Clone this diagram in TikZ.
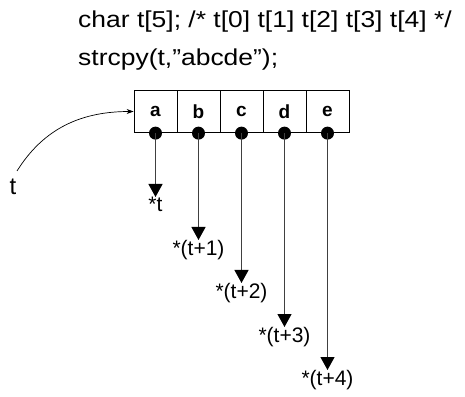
\documentclass[tikz,border=0pt]{standalone}
\usepackage{fontspec}
\setmainfont{Liberation Sans}
\usetikzlibrary{arrows.meta}
\begin{document}
\begin{tikzpicture}[x=1pt,y=1pt,
  cell/.style={draw=black, line width=0.8pt, minimum width=43pt, minimum height=42.5pt, inner sep=0pt, font=\fontsize{19}{21}\selectfont\bfseries, anchor=center},
  dot/.style={circle, fill=black, inner sep=0pt, minimum size=13pt},
  ptr/.style={draw=black!75, line width=1.2pt, -{Triangle[width=14pt,length=13pt,color=black]}},
  lbl/.style={font=\fontsize{21}{23}\selectfont, inner sep=0pt, anchor=north},
  code/.style={font=\fontsize{23}{26}\selectfont, inner sep=0pt, anchor=base west, xscale=1.15, transform shape}]
\useasboundingbox (0,0) rectangle (465,396);
% code text
\node[code] (l1) at (78,368) {char t[5]; /* t[0] t[1] t[2] t[3] t[4] */};
\node[code] (l2) at (78,330) {strcpy(t,”abcde”);};
% array cells
\node[cell] (c1) at (155.5,284.5) {a};
\node[cell] (c2) at (198.5,284.5) {b};
\node[cell] (c3) at (241.5,284.5) {c};
\node[cell] (c4) at (284.5,284.5) {d};
\node[cell] (c5) at (327.5,284.5) {e};
% dots
\foreach \i in {1,...,5} {\node[dot] (d\i) at (c\i.south) {};}
% tips
\coordinate (t1) at (155.5,199);
\coordinate (t2) at (198.5,156);
\coordinate (t3) at (241.5,113);
\coordinate (t4) at (284.5,69);
\coordinate (t5) at (327.5,26);
\foreach \i in {1,...,5} {\draw[ptr] (d\i.center) -- (t\i);}
\node[lbl] (e1) at (t1) {*t};
\node[lbl] (e2) at (t2) {*(t+1)};
\node[lbl] (e3) at (t3) {*(t+2)};
\node[lbl] (e4) at (t4) {*(t+3)};
\node[lbl] (e5) at (t5) {*(t+4)};
% t pointer
\node[font=\fontsize{24}{26}\selectfont, inner sep=0pt] (tv) at (13,209) {t};
\draw[line width=0.7pt, -{Stealth[length=7pt,width=5pt]}] (17,225) to[out=58, in=180] (c1.west);
\end{tikzpicture}
\end{document}
